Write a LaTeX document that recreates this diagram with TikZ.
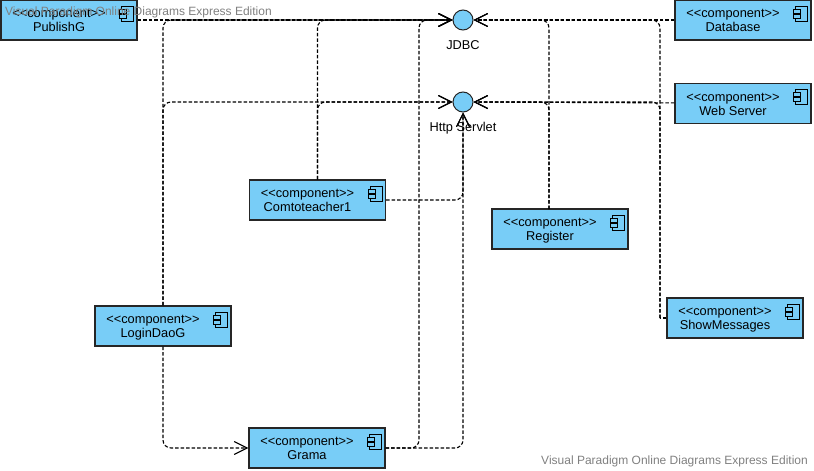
\documentclass[tikz,border=0pt]{standalone}
\usepackage{fontspec}
\setmainfont{Liberation Sans}
\usepackage{xcolor}
\usetikzlibrary{arrows.meta, positioning}

\definecolor{compblue}{HTML}{78CDF7}
\newcommand{\comptext}[1]{\begin{tabular}{@{}c@{\hspace{20pt}}}\rule{0pt}{13.8pt}<{}<component>{}>\\#1\end{tabular}}

\begin{document}
\begin{tikzpicture}[
      x=1pt, y=-1pt,
      font=\fontsize{12.8}{14}\selectfont,
      comp/.style={rectangle, draw=black!85, line width=1.2pt, fill=compblue, minimum width=136pt, minimum height=40pt, inner sep=0pt},
      iface/.style={circle, draw=black!85, line width=1pt, fill=compblue, minimum size=20pt, inner sep=0pt},
      lbl/.style={inner sep=0pt},
      mark text/.style={text=black!50, inner sep=0pt, font=\fontsize{12}{14}\selectfont},
      dep/.style={draw=black, line width=1.1pt, dash pattern=on 3.5pt off 2pt, rounded corners=8pt, -{Straight Barb[length=13pt, width=13pt]}},
      link/.style={draw=black, line width=1.1pt, dash pattern=on 3.5pt off 2pt, rounded corners=8pt},
      compicon/.pic={
        \draw[line width=0.8pt, fill=compblue] (-16,7) rectangle (-4,22);
        \draw[line width=0.8pt, fill=compblue] (-18,10) rectangle (-11,14);
        \draw[line width=0.8pt, fill=compblue] (-18,15) rectangle (-11,19);
      }
    ]
      \useasboundingbox (0,0) rectangle (814,471);

      % interfaces
      \node[iface] (jdbc) at (463,20) {};
      \node[iface] (http) at (463,102) {};
      \node[lbl, below=10pt of jdbc] (jdbcLabel) {JDBC};
      \node[lbl, below=10pt of http] (httpLabel) {Http Servlet};

      % components
      \node[comp] (publishG) at (69,20) {\comptext{PublishG}};
      \node[comp] (database) at (743,20) {\comptext{Database}};
      \node[comp, below=42pt of database] (webServer) {\comptext{Web Server}};
      \node[comp] (comto) at (317.5,200) {\comptext{Comtoteacher1}};
      \node[comp] (register) at (560,229) {\comptext{Register}};
      \node[comp] (loginDao) at (163,326) {\comptext{LoginDaoG}};
      \node[comp] (grama) at (317,448) {\comptext{Grama}};
      \node[comp] (showMsg) at (735,318) {\comptext{ShowMessages}};

      \foreach \n in {publishG, database, webServer, comto, register, loginDao, grama, showMsg}
        \pic at (\n.north east) {compicon};

      % bends
      \coordinate (gramaBend) at (419,300);
      \coordinate (registerTop) at (549,209);
      \coordinate (showBend) at (660,318);

      % straight ones
      \draw[dep] (publishG) -- (jdbc);
      \draw[dep] (database) -- (jdbc);
      \draw[dep] (webServer) -- (http);

      % loginDao
      \draw[dep] (loginDao.north) |- (jdbc);
      \draw[dep] (loginDao.north) |- (http);
      \draw[dep] (loginDao.south) |- (grama);

      % comto
      \draw[dep] (comto.north) |- (jdbc);
      \draw[dep] (comto.north) |- (http);
      \draw[dep] (comto.east) -| (http);

      % grama
      \draw[dep] (grama.east) -| (gramaBend) |- (jdbc);
      \draw[dep] (grama.east) -| (http);

      % register
      \draw[dep] (registerTop) |- (jdbc);
      \draw[dep] (registerTop) |- (http);

      % showMessages
      \draw[link] (showMsg.west) -- (showBend);
      \draw[dep] (showBend) |- (jdbc);
      \draw[dep] (showBend) |- (http);

      % watermarks
      \node[mark text, anchor=west] (markTop) at (5,12) {Visual Paradigm Online Diagrams Express Edition};
      \node[mark text, anchor=east] (markBottom) at (808,461) {Visual Paradigm Online Diagrams Express Edition};
    \end{tikzpicture}
\end{document}
